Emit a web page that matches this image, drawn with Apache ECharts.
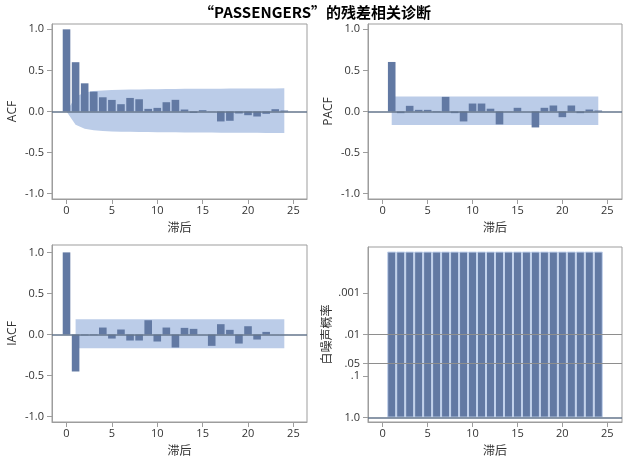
<!DOCTYPE html>
<html><head><meta charset="utf-8">
<script src="https://cdn.jsdelivr.net/npm/echarts@6/dist/echarts.min.js"></script>
<style>html,body{margin:0;padding:0;background:#fff}#c{width:630px;height:460px}</style>
</head><body><div id="c"></div>
<script>
const titleText = '“PASSENGERS”的残差相关诊断';
const lagAxisName = '滞后';
const panelNames = ['ACF', 'PACF', 'IACF', '白噪声概率'];

const acfLags = [0,1,2,3,4,5,6,7,8,9,10,11,12,13,14,15,16,17,18,19,20,21,22,23,24];
const acfValues = [1.0,0.60,0.343,0.242,0.173,0.141,0.089,0.165,0.149,0.032,0.044,0.113,0.142,0.024,-0.017,0.016,-0.002,-0.121,-0.113,-0.024,-0.045,-0.061,-0.028,0.028,0.012];
const acfBandUpper = [0,0.18,0.23,0.248,0.256,0.262,0.265,0.267,0.269,0.271,0.272,0.273,0.274,0.276,0.277,0.277,0.277,0.278,0.279,0.279,0.28,0.28,0.281,0.281,0.282];
const acfBandLower = [0,-0.16,-0.21,-0.228,-0.236,-0.242,-0.245,-0.247,-0.249,-0.251,-0.252,-0.253,-0.254,-0.256,-0.257,-0.257,-0.257,-0.258,-0.259,-0.259,-0.26,-0.26,-0.261,-0.261,-0.262];

const pacfLags = [1,2,3,4,5,6,7,8,9,10,11,12,13,14,15,16,17,18,19,20,21,22,23,24];
const pacfValues = [0.603,-0.02,0.069,0.02,0.02,-0.008,0.178,-0.02,-0.121,0.097,0.097,0.034,-0.157,-0.002,0.045,-0.001,-0.194,0.045,0.073,-0.069,0.073,-0.02,0.024,0.012];
const pacfBandLags = [1,24];
const pacfBandUpper = [0.184,0.184];
const pacfBandLower = [-0.163,-0.163];

const iacfLags = [0,1,2,3,4,5,6,7,8,9,10,11,12,13,14,15,16,17,18,19,20,21,22,23,24];
const iacfValues = [1.0,-0.45,-0.01,-0.008,0.085,-0.049,0.061,-0.073,-0.073,0.174,-0.085,0.085,-0.158,0.081,0.069,0.001,-0.138,0.126,0.057,-0.11,0.101,-0.061,0.032,0.001,0.001];
const iacfBandLags = [1,24];
const iacfBandUpper = [0.186,0.186];
const iacfBandLower = [-0.166,-0.166];

const wnLags = [1,2,3,4,5,6,7,8,9,10,11,12,13,14,15,16,17,18,19,20,21,22,23,24];
const wnProb = [0.0001,0.0001,0.0001,0.0001,0.0001,0.0001,0.0001,0.0001,0.0001,0.0001,0.0001,0.0001,0.0001,0.0001,0.0001,0.0001,0.0001,0.0001,0.0001,0.0001,0.0001,0.0001,0.0001,0.0001];

const lagTicks = [0,5,10,15,20,25];
const corrTicks = [-1,-0.5,0,0.5,1];
const corrTickLabels = ['-1.0','-0.5','0.0','0.5','1.0'];
const probTicks = [0.001,0.01,0.05,0.1,1.0];
const probTickLabels = ['.001','.01','.05','.1','1.0'];
const probRefLines = [0.01,0.05];

const barColor = '#6279a3';
const bandColor = '#bbcce8';
const zeroColor = '#65768c';
const frameColor = '#9d9d9d';
const textColor = '#333';
const font = '"Open Sans", "Noto Sans CJK SC", sans-serif';
const cjkFont = '"Noto Sans CJK SC", sans-serif';

const toLog = p => -Math.log10(p);
const pairs = (xs, ys) => xs.map((x, i) => [x, ys[i]]);

const grids = [
  {left: 52, top: 24, width: 255, height: 175},
  {left: 368, top: 24, width: 254, height: 175},
  {left: 52, top: 245, width: 255, height: 177},
  {left: 368, top: 247, width: 254, height: 175}
].map(g => Object.assign(g, {show: true, borderColor: frameColor, borderWidth: 1, backgroundColor: '#fff', containLabel: false}));

function xAxis(i, min, max) {
  return {
    type: 'value', gridIndex: i, min: min, max: max,
    name: lagAxisName, nameLocation: 'middle', nameGap: 22,
    nameTextStyle: {color: textColor, fontSize: 12, fontFamily: cjkFont},
    axisLine: {show: true, onZero: false, lineStyle: {color: frameColor}},
    axisTick: {show: true, length: 5, lineStyle: {color: frameColor}, customValues: lagTicks},
    axisLabel: {color: textColor, fontSize: 11, fontFamily: font, margin: 6, customValues: lagTicks, formatter: v => String(v)},
    splitLine: {show: false}
  };
}
function corrYAxis(i, name, min, max) {
  return {
    type: 'value', gridIndex: i, min: min, max: max,
    name: name, nameLocation: 'middle', nameGap: 33, nameRotate: 90,
    nameTextStyle: {color: textColor, fontSize: 12, fontFamily: font},
    axisLine: {show: true, onZero: false, lineStyle: {color: frameColor}},
    axisTick: {show: true, length: 5, lineStyle: {color: frameColor}, customValues: corrTicks},
    axisLabel: {color: textColor, fontSize: 11, fontFamily: font, margin: 8, customValues: corrTicks,
      formatter: v => corrTickLabels[corrTicks.findIndex(t => Math.abs(t - v) < 1e-9)] || ''},
    splitLine: {show: false}
  };
}
const probTickPos = probTicks.map(toLog);
const probYAxis = {
  type: 'value', gridIndex: 3, min: -0.106, max: 4.11,
  name: panelNames[3], nameLocation: 'middle', nameGap: 36, nameRotate: 90,
  nameTextStyle: {color: textColor, fontSize: 12, fontFamily: cjkFont},
  axisLine: {show: true, onZero: false, lineStyle: {color: frameColor}},
  axisTick: {show: true, length: 5, lineStyle: {color: frameColor}, customValues: probTickPos},
  axisLabel: {color: textColor, fontSize: 11, fontFamily: font, margin: 8, customValues: probTickPos,
    formatter: v => probTickLabels[probTickPos.findIndex(t => Math.abs(t - v) < 1e-6)] || ''},
  splitLine: {show: false}
};

function band(i, xs, ys) {
  return {type: 'line', xAxisIndex: i, yAxisIndex: i, data: pairs(xs, ys), symbol: 'none', showSymbol: false,
    lineStyle: {width: 0}, areaStyle: {color: bandColor, opacity: 1}, z: 1, silent: true};
}
function zeroLine(color) {
  return {silent: true, symbol: 'none', label: {show: false}, animation: false,
    lineStyle: {color: color, width: 1.5, type: 'solid'}, data: [{yAxis: 0}]};
}
function bars(i, xs, ys) {
  return {type: 'bar', xAxisIndex: i, yAxisIndex: i, data: pairs(xs, ys), barWidth: 7.6,
    itemStyle: {color: barColor}, z: 3, markLine: zeroLine(zeroColor)};
}

const option = {
  animation: false,
  title: {text: titleText, left: 'center', top: 0,
    textStyle: {fontSize: 15, fontWeight: 'bold', color: '#000', fontFamily: cjkFont}},
  grid: grids,
  xAxis: [xAxis(0, -1.6, 26.5), xAxis(1, -1.64, 26.64), xAxis(2, -1.6, 26.5), xAxis(3, -1.64, 26.64)],
  yAxis: [corrYAxis(0, panelNames[0], -1.065, 1.065), corrYAxis(1, panelNames[1], -1.065, 1.065),
          corrYAxis(2, panelNames[2], -1.065, 1.09), probYAxis],
  series: [
    band(0, acfLags, acfBandUpper), band(0, acfLags, acfBandLower), bars(0, acfLags, acfValues),
    band(1, pacfBandLags, pacfBandUpper), band(1, pacfBandLags, pacfBandLower), bars(1, pacfLags, pacfValues),
    band(2, iacfBandLags, iacfBandUpper), band(2, iacfBandLags, iacfBandLower), bars(2, iacfLags, iacfValues),
    {type: 'bar', xAxisIndex: 3, yAxisIndex: 3, data: pairs(wnLags, wnProb.map(toLog)), barWidth: 9,
      itemStyle: {color: barColor, borderColor: '#c2d2ec', borderWidth: 1}, z: 3,
      markLine: {silent: true, symbol: 'none', label: {show: false}, animation: false,
        data: [
          {yAxis: 0, lineStyle: {color: zeroColor, width: 1.5, type: 'solid'}},
          ...probRefLines.map(p => ({yAxis: toLog(p), lineStyle: {color: '#8e8e8e', width: 1, type: 'solid'}}))
        ]}}
  ]
};
const chart = echarts.init(document.getElementById('c'), null, {renderer: 'canvas'});
chart.setOption(option);
</script></body></html>
